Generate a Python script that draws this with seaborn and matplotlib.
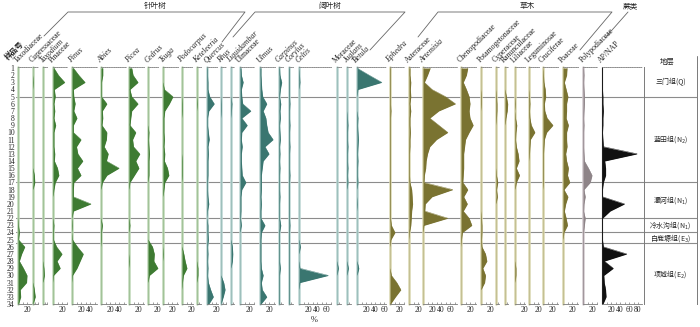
from __future__ import annotations

import matplotlib

matplotlib.use("Agg")
import matplotlib.pyplot as plt
import numpy as np
import pandas as pd
import seaborn as sns


# ---- pollen percentages, samples 1..34 (top -> bottom)
SAMPLES = list(range(1, 35))

TAXODIACEAE = [0, 0, 0, 0, 0, 0, 0, 0, 0, 0, 0, 0, 0, 0, 0, 0, 0, 0, 0, 0, 0, 0, 1, 3, 1, 15, 8, 3, 12, 20, 19, 5, 6, 1]
CUPRESSACEAE = [0, 0, 1, 0, 0, 0, 0, 0, 0, 0, 0, 0, 0, 0, 0, 3, 4, 0, 0, 0, 0, 0, 0, 0, 0, 0, 0, 0, 0, 0, 0, 3, 5, 0]
TAXODIUM = [0, 0, 0, 0, 0, 0, 0, 0, 0, 0, 0, 0, 0, 0, 0, 0, 0, 0, 0, 0, 0, 0, 0, 0, 0, 0, 0, 0, 2, 3, 0, 0, 0, 0]
PINACEAE = [2, 12, 26, 3, 5, 2, 4, 2, 6, 2, 2, 2, 4, 3, 10, 13, 5, 2, 0, 0, 0, 0, 2, 1, 1, 8, 20, 9, 16, 1, 0, 0, 0, 0]
PINUS = [3, 15, 29, 3, 4, 7, 4, 11, 3, 3, 20, 10, 13, 24, 12, 20, 4, 3, 3, 42, 3, 0, 1, 0, 1, 12, 25, 18, 11, 1, 0, 0, 0, 0]
ABIES = [4, 4, 1, 1, 1, 13, 3, 4, 2, 13, 12, 7, 16, 12, 40, 13, 3, 0, 0, 0, 0, 0, 3, 1, 1, 0, 0, 0, 0, 0, 0, 0, 0, 0]
PICEA = [6, 9, 20, 2, 6, 20, 6, 4, 2, 15, 8, 10, 24, 15, 22, 12, 2, 0, 0, 0, 0, 0, 2, 0, 0, 0, 0, 1, 0, 0, 0, 0, 0, 0]
CEDRUS = [0, 0, 0, 0, 0, 0, 0, 0, 0, 2, 1, 2, 3, 2, 2, 2, 0, 0, 0, 0, 0, 0, 0, 0, 0, 10, 14, 13, 22, 3, 0, 0, 0, 0]
TSUGA = [0, 0, 0, 3, 22, 14, 4, 2, 2, 2, 3, 2, 4, 3, 10, 13, 4, 2, 0, 0, 0, 0, 0, 0, 0, 0, 1, 0, 0, 0, 0, 0, 0, 0]
PODOCARPUS = [0, 0, 0, 0, 0, 1, 1, 0, 0, 0, 0, 0, 0, 1, 1, 1, 0, 0, 0, 0, 0, 0, 0, 0, 0, 0, 4, 7, 11, 3, 1, 0, 0, 0]
KETELEERIA = [0, 0, 0, 0, 0, 1, 0, 0, 0, 0, 0, 0, 0, 0, 0, 0, 0, 0, 0, 0, 0, 0, 0, 0, 0, 0, 0, 0, 2, 2, 0, 0, 0, 0]
QUERCUS = [1, 1, 2, 2, 6, 16, 4, 1, 1, 3, 5, 2, 3, 2, 2, 2, 1, 1, 2, 4, 1, 0, 2, 2, 3, 1, 2, 1, 2, 1, 3, 8, 14, 4]
RHUS = [0, 0, 0, 0, 0, 1, 1, 0, 0, 0, 0, 0, 0, 0, 0, 0, 0, 0, 0, 0, 0, 0, 0, 0, 0, 0, 0, 0, 0, 0, 6, 9, 5, 0]
LIQUIDAMBAR = [0, 0, 0, 0, 0, 2, 1, 0, 0, 0, 0, 0, 0, 0, 0, 0, 0, 0, 0, 0, 0, 0, 0, 0, 0, 3, 4, 3, 0, 0, 0, 0, 0, 0]
ULMACEAE = [2, 3, 7, 3, 4, 6, 24, 4, 16, 4, 3, 5, 3, 3, 4, 5, 13, 4, 2, 2, 2, 1, 3, 0, 0, 0, 0, 0, 0, 0, 0, 0, 0, 0]
ULMUS = [2, 2, 3, 4, 6, 15, 7, 13, 15, 18, 29, 11, 20, 7, 5, 3, 3, 3, 2, 3, 2, 2, 11, 3, 2, 2, 2, 2, 3, 7, 3, 5, 15, 2]
CARPINUS = [1, 2, 6, 3, 1, 4, 2, 3, 1, 2, 3, 1, 2, 1, 2, 1, 1, 1, 2, 1, 1, 1, 4, 1, 1, 1, 1, 1, 3, 1, 1, 1, 1, 1]
CORYLUS = [1, 1, 1, 1, 1, 2, 1, 1, 2, 1, 1, 2, 1, 1, 1, 2, 1, 1, 1, 1, 1, 1, 2, 1, 1, 1, 1, 1, 1, 1, 1, 1, 1, 1]
CELTIS = [0, 1, 2, 0, 0, 0, 0, 0, 0, 0, 0, 0, 0, 0, 0, 0, 0, 0, 0, 0, 0, 0, 0, 0, 0, 3, 0, 0, 2, 65, 2, 0, 0, 0]
MORACEAE = [0, 0, 0, 0, 0, 0, 0, 0, 0, 0, 0, 0, 0, 0, 0, 0, 0, 0, 0, 0, 0, 0, 0, 0, 0, 0, 0, 0, 3, 0, 0, 0, 0, 0]
JUGLANS = [0, 0, 0, 0, 0, 0, 0, 1, 2, 1, 1, 2, 1, 1, 2, 1, 2, 0, 0, 0, 0, 0, 0, 0, 0, 0, 0, 0, 3, 0, 0, 0, 0, 0]
BETULA = [0, 27, 55, 2, 0, 0, 0, 2, 1, 2, 3, 2, 1, 2, 1, 1, 2, 0, 0, 1, 0, 0, 0, 0, 0, 0, 0, 0, 4, 0, 0, 0, 0, 0]
EPHEDRA = [1, 1, 1, 1, 1, 1, 2, 1, 1, 1, 1, 1, 1, 1, 1, 1, 1, 1, 1, 1, 1, 1, 3, 11, 2, 0, 0, 0, 0, 3, 15, 24, 12, 1]
ASTERACEAE = [2, 2, 4, 3, 4, 2, 4, 2, 2, 3, 2, 2, 1, 1, 1, 1, 2, 6, 7, 8, 6, 5, 4, 1, 0, 0, 0, 0, 0, 0, 0, 0, 0, 0]
ARTEMISIA = [16, 10, 3, 20, 50, 72, 35, 15, 35, 55, 30, 15, 10, 7, 6, 3, 2, 66, 20, 5, 4, 55, 2, 0, 0, 0, 0, 0, 0, 0, 0, 0, 0, 0]
CHENOPODIACEAE = [15, 12, 5, 12, 18, 20, 18, 20, 27, 18, 10, 8, 6, 6, 6, 5, 4, 15, 6, 14, 5, 18, 24, 3, 1, 0, 0, 0, 0, 0, 0, 0, 0, 0]
POTAMOGETONACEAE = [0, 0, 0, 0, 1, 1, 0, 0, 0, 0, 0, 0, 0, 0, 0, 0, 0, 0, 0, 0, 0, 1, 2, 2, 1, 2, 10, 13, 4, 10, 8, 0, 0, 0]
CYPERACEAE = [0, 0, 0, 0, 1, 2, 2, 1, 0, 0, 0, 0, 0, 0, 0, 1, 4, 1, 3, 0, 0, 0, 0, 0, 0, 0, 0, 0, 0, 0, 0, 0, 0, 0]
RANUNCULACEAE = [0, 0, 0, 0, 3, 6, 5, 2, 0, 0, 0, 0, 0, 0, 0, 0, 0, 0, 0, 0, 0, 0, 0, 0, 0, 0, 0, 0, 0, 0, 0, 0, 0, 0]
LILIACEAE = [0, 0, 0, 0, 0, 1, 0, 1, 4, 2, 1, 3, 7, 9, 3, 10, 3, 0, 0, 0, 0, 0, 0, 0, 0, 0, 0, 0, 2, 2, 0, 0, 0, 0]
LEGUMINOSAE = [0, 0, 0, 0, 1, 2, 1, 2, 5, 13, 3, 2, 1, 0, 0, 0, 0, 0, 0, 0, 0, 0, 0, 0, 0, 0, 0, 0, 0, 0, 0, 0, 0, 0]
CRUCIFERAE = [0, 1, 2, 5, 6, 3, 4, 9, 22, 8, 3, 2, 1, 1, 1, 1, 1, 0, 0, 0, 0, 0, 0, 0, 0, 0, 0, 0, 0, 0, 0, 0, 0, 0]
POACEAE = [9, 8, 3, 7, 11, 8, 8, 7, 12, 8, 8, 9, 6, 8, 12, 10, 15, 2, 11, 6, 3, 7, 10, 2, 0, 0, 0, 0, 0, 0, 0, 0, 0, 0]
POLYPODIACEAE = [1, 2, 1, 2, 3, 3, 2, 1, 2, 1, 1, 1, 2, 3, 12, 20, 16, 2, 5, 2, 1, 5, 3, 1, 1, 1, 1, 1, 1, 1, 1, 1, 1, 1]
AP_NAP = [1, 1, 1, 1, 2, 2, 3, 2, 2, 1, 2, 3, 78, 6, 8, 8, 3, 1, 1, 50, 18, 1, 1, 1, 1, 3, 55, 5, 25, 4, 5, 8, 9, 2]

# name, values, group, italic
TAXA = [
    ("Taxodiaceae", TAXODIACEAE, "conifer", False),
    ("Cupressaceae", CUPRESSACEAE, "conifer", False),
    ("Taxodium", TAXODIUM, "conifer", True),
    ("Pinaceae", PINACEAE, "conifer", False),
    ("Pinus", PINUS, "conifer", True),
    ("Abies", ABIES, "conifer", True),
    ("Picea", PICEA, "conifer", True),
    ("Cedrus", CEDRUS, "conifer", True),
    ("Tsuga", TSUGA, "conifer", True),
    ("Podocarpus", PODOCARPUS, "conifer", True),
    ("Keteleeria", KETELEERIA, "conifer", True),
    ("Quercus", QUERCUS, "broad", True),
    ("Rhus", RHUS, "broad", True),
    ("Liquidambar", LIQUIDAMBAR, "broad", True),
    ("Ulmaceae", ULMACEAE, "broad", False),
    ("Ulmus", ULMUS, "broad", True),
    ("Carpinus", CARPINUS, "broad", True),
    ("Corylus", CORYLUS, "broad", True),
    ("Celtis", CELTIS, "broad", True),
    ("Moraceae", MORACEAE, "broad", False),
    ("Juglans", JUGLANS, "broad", True),
    ("Betula", BETULA, "broad", True),
    ("Ephedra", EPHEDRA, "herb", True),
    ("Asteraceae", ASTERACEAE, "herb", False),
    ("Artemisia", ARTEMISIA, "herb", True),
    ("Chenopodiaceae", CHENOPODIACEAE, "herb", False),
    ("Potamogetonaceae", POTAMOGETONACEAE, "herb", False),
    ("Cyperaceae", CYPERACEAE, "herb", False),
    ("Ranunculaceae", RANUNCULACEAE, "herb", False),
    ("Liliaceae", LILIACEAE, "herb", False),
    ("Leguminosae", LEGUMINOSAE, "herb", False),
    ("Cruciferae", CRUCIFERAE, "herb", False),
    ("Poaceae", POACEAE, "herb", False),
    ("Polypodiaceae", POLYPODIACEAE, "fern", False),
    ("AP/NAP", AP_NAP, "ratio", False),
]

ZONE_BOUNDS = [5, 17, 22, 24, 25.5]
ZONE_LABELS = ["三门组(Q)", "蓝田组(N$_2$)", "灞河组(N$_1$)", "冷水沟组(N$_1$)", "白鹿塬组(E$_3$)", "项城组(E$_2$)"]
GROUP_LABELS = ["针叶树", "阔叶树", "草木", "蕨类"]

# ---- layout (pixels of a 700x327 canvas)
W, H = 700, 327
TOP_PX, BOT_PX = 67, 304
PX_PER_PCT = 0.45
Y_TOP = 0.86
# baseline x and panel range (%) per taxon
PANEL_LAYOUT = [
    (18, 30), (33, 10), (43, 10), (53, 32), (72, 55), (101, 55), (129, 33), (148, 25),
    (163, 33), (182, 25), (197, 8), (207, 25), (221, 10), (231, 6), (240, 30), (260, 33),
    (279, 8), (289, 8), (299, 70), (337, 8), (347, 8), (357, 65), (390, 30), (409, 22),
    (423, 75), (461, 33), (481, 25), (496, 6), (505, 6), (515, 22), (529, 22), (543, 33),
    (563, 33), (583, 30), (602, 88),
]
COLORS = {
    "conifer": ("#3e7b32", "#bdd6b5"),
    "broad": ("#3a7670", "#b9d4d1"),
    "herb": ("#7a7331", "#d8d5ad"),
    "fern": ("#8e8488", "#d0c7cc"),
    "ratio": ("#111111", "#333333"),
}
BRACKETS = [
    [(44, 36), (68, 12), (245, 12), (222, 42)],
    [(233, 37), (255, 12), (405, 12), (370, 50)],
    [(418, 37), (438, 12), (612, 12), (580, 50)],
    [(605, 38), (628, 12)],
]
GROUP_POS = [(155, 6), (330, 6), (527, 6), (630, 6)]
SERIF = "Liberation Serif"
LINE = "#7a7a7a"


def rect(x0: float, x1: float) -> list[float]:
    return [x0 / W, 1 - BOT_PX / H, (x1 - x0) / W, (BOT_PX - TOP_PX) / H]


def main() -> None:
    sns.set_theme(style="white")
    plt.rcParams["font.family"] = ["Noto Sans CJK SC", "DejaVu Sans"]
    plt.rcParams["axes.unicode_minus"] = False

    df = pd.concat(
        [pd.DataFrame({"taxon": name, "sample": SAMPLES, "pct": vals}) for name, vals, _, _ in TAXA],
        ignore_index=True,
    )

    fig = plt.figure(figsize=(W / 100, H / 100), dpi=100)

    # zone boundaries + sample numbers (drawn underneath the curves)
    bg = fig.add_axes(rect(16, 697))
    bg.set_xlim(0, 1)
    bg.set_ylim(34, Y_TOP)
    for b in ZONE_BOUNDS:
        bg.axhline(b, color="#8c8c8c", lw=0.8)
    bg.set_xticks([])
    bg.set_yticks(SAMPLES)
    bg.set_yticklabels([str(s) for s in SAMPLES], fontfamily=SERIF, fontsize=5.5)
    bg.tick_params(axis="y", length=0, pad=1)
    for sp in bg.spines.values():
        sp.set_visible(False)

    for (name, _, kind, _), (x0, rng) in zip(TAXA, PANEL_LAYOUT):
        fill, pale = COLORS[kind]
        sub = df[df["taxon"] == name]
        ax = fig.add_axes(rect(x0, x0 + rng * PX_PER_PCT))
        ax.patch.set_alpha(0)
        ax.axvline(0, color=pale, lw=0.8 if kind == "ratio" else 1.8, zorder=1, clip_on=False)
        ax.fill_betweenx(sub["sample"], 0, sub["pct"], color=fill, lw=0, zorder=2)
        sns.lineplot(data=sub, x="pct", y="sample", orient="y", sort=False, estimator=None,
                     color=fill, lw=0.3, ax=ax, zorder=3)
        ax.set_xlim(0, rng)
        ax.set_ylim(34, Y_TOP)
        ax.set_xlabel("")
        ax.set_ylabel("")
        ax.set_yticks([])
        step = 5 if rng <= 12 else 10
        ticks = np.arange(0, rng + 0.1, step)
        ax.set_xticks(ticks)
        ax.set_xticklabels([f"{t:.0f}" if t > 0 and t % 20 == 0 else "" for t in ticks],
                           fontfamily=SERIF, fontsize=5.5)
        ax.tick_params(axis="x", direction="in", length=1.8, width=0.5, color=LINE, pad=1.5, bottom=True)
        for side in ("left", "right"):
            ax.spines[side].set_visible(False)
        ax.spines["bottom"].set_color(LINE)
        ax.spines["bottom"].set_linewidth(0.6)
        ax.spines["top"].set_color(LINE)
        ax.spines["top"].set_linewidth(0.6)
        ax.spines["top"].set_linestyle((0, (1, 1.2)))

    # stratigraphy column
    st = fig.add_axes(rect(644, 697))
    st.patch.set_alpha(0)
    st.set_ylim(34, Y_TOP)
    st.set_xticks([])
    st.set_yticks([])
    for side in ("top", "bottom"):
        st.spines[side].set_visible(False)
    for side in ("left", "right"):
        st.spines[side].set_color(LINE)
        st.spines[side].set_linewidth(0.7)
    edges = [Y_TOP] + ZONE_BOUNDS + [34]
    for label, lo, hi in zip(ZONE_LABELS, edges[:-1], edges[1:]):
        st.text(0.5, (lo + hi) / 2, label, transform=st.get_yaxis_transform(),
                ha="center", va="center", fontsize=5)

    # header overlay
    ov = fig.add_axes([0, 0, 1, 1])
    ov.set_xlim(0, W)
    ov.set_ylim(H, 0)
    ov.axis("off")
    for (name, _, _, italic), (x0, _) in zip(TAXA, PANEL_LAYOUT):
        ov.text(x0 + 0.5, 64.5, name, rotation=45, rotation_mode="anchor", ha="left", va="bottom",
                fontsize=5.6, fontfamily=SERIF, fontstyle="italic" if italic else "normal")
    for pts in BRACKETS:
        xs, ys = zip(*pts)
        ov.plot(xs, ys, color="#666666", lw=0.6)
    for label, (x, y) in zip(GROUP_LABELS, GROUP_POS):
        ov.text(x, y, label, ha="center", va="center", fontsize=5.5)
    ov.plot([697, 697], [56, 67], color=LINE, lw=0.7)
    ov.text(14, 50, "样品号", rotation=45, ha="center", va="center", fontsize=5.5, fontweight="bold")
    ov.text(667, 62, "地层", ha="center", va="center", fontsize=5.3)
    ov.text(314, 320, "%", ha="center", va="center", fontsize=6, fontfamily=SERIF)

    fig.savefig("out.png", dpi=100)
    plt.close(fig)


if __name__ == "__main__":
    main()
